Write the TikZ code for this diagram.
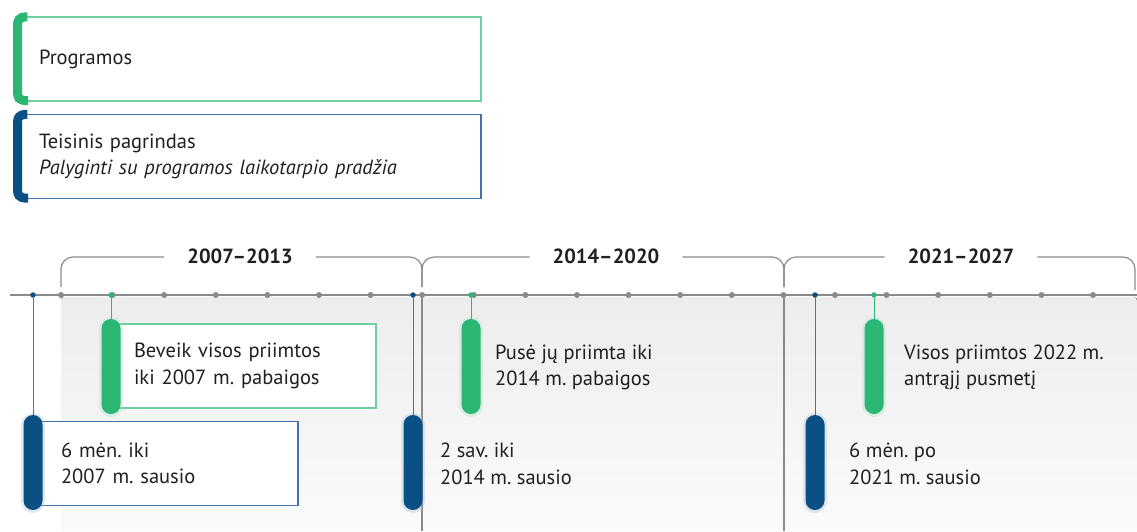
\documentclass[tikz,border=0pt]{standalone}
\usepackage{fontspec}
\setmainfont{PT Sans}
\frenchspacing
\definecolor{grn}{HTML}{2BB673}
\definecolor{grnl}{HTML}{6ED09E}
\definecolor{blu}{HTML}{0B5084}
\definecolor{blul}{HTML}{4572AA}
\definecolor{txt}{HTML}{231F20}
\definecolor{axis}{HTML}{8A8A8A}
\begin{document}
\begin{tikzpicture}[x=1pt,y=-1pt,
  every node/.style={font=\fontsize{20.5}{26.5}\selectfont, text=txt},
  bar/.style={rounded corners=9.5pt, minimum width=19pt, minimum height=95pt, inner sep=0pt, draw=none},
  halo/.style={rounded corners=12pt, minimum width=24pt, minimum height=100pt, inner sep=0pt, draw=none, opacity=0.35},
  legbar/.style={line width=9pt, rounded corners=7pt},
  box/.style={fill=white, line width=1.1pt, minimum height=84pt, inner ysep=0pt, align=left},
  gdot/.style={circle, fill=axis, inner sep=0pt, minimum size=6pt},
  bdot/.style={circle, fill=blu, inner sep=0pt, minimum size=5.5pt},
  grdot/.style={circle, fill=grn, inner sep=0pt, minimum size=5.5pt},
  brace/.style={draw=axis, line width=1.2pt, rounded corners=12pt},
  period/.style={font=\fontsize{20.5}{22}\selectfont\bfseries, inner xsep=23pt, inner ysep=2pt},
  plain/.style={anchor=west, inner sep=0pt, align=left},
  gconn/.style={draw=grn, line width=1pt},
  bconn/.style={draw=blul, line width=1pt}]
\useasboundingbox (0,0) rectangle (1137,531);

% legend
\node[box, draw=grnl, minimum width=465pt, text width=419pt, inner xsep=23pt] (lp) at (248.5,59) {Programos};
\draw[legbar, grn] (lp.north west) ++(12,0.5) -| (17.5,100.5) -- (28,100.5);
\node[box, draw=blul, minimum width=465pt, text width=419pt, inner xsep=23pt] (lt) at (248.5,156.5)
  {Teisinis pagrindas\\\textit{Palyginti su programos laikotarpio pradžia}};
\draw[legbar, blu] (lt.north west) ++(12,0.5) -| (17.5,198) -- (28,198);

% background panels
\fill[top color=black!7, bottom color=black!1.5, rounded corners=3pt] (61,297) rectangle (1137,540);
\draw[axis, line width=1.2pt] (422,295) -- (422,531);
\draw[axis, line width=1.2pt] (784,295) -- (784,531);

% period labels and braces
\node[period] (p1) at (240,256) {2007–2013};
\node[period] (p2) at (606,256) {2014–2020};
\node[period] (p3) at (961,256) {2021–2027};
\coordinate (a0) at (61,287);
\coordinate (a1) at (422,287);
\coordinate (a2) at (784,287);
\coordinate (a3) at (1135,290);
\draw[brace] (p1.west |- 0,257) -| (a0);
\draw[brace] (p1.east |- 0,257) -| (a1);
\draw[brace] (p2.west |- 0,257) -| (a1);
\draw[brace] (p2.east |- 0,257) -| (a2);
\draw[brace] (p3.west |- 0,257) -| (a2);
\draw[brace] (p3.east |- 0,257) -| (a3);

% timeline
\coordinate (l0) at (10,295);
\coordinate (l1) at (1137,295);
\draw[axis, line width=1.4pt] (l0) -- (l1);
\foreach \k in {0,...,20} \node[gdot] (t\k) at ({61+51.6*\k},295) {};

% blue markers
\node[bdot] (bd1) at (33,295) {};
\node[bdot] (bd2) at (413,295) {};
\node[bdot] (bd3) at (815,295) {};
% green markers
\node[grdot] (gd1) at (111,295) {};
\node[grdot] (gd2) at (471,295) {};
\node[grdot] (gd3) at (874,295) {};

% period 1
\node[box, draw=grnl, minimum width=266pt, text width=218pt, inner xsep=24pt] (g1box) at (243,366) {Beveik visos priimtos\\iki 2007 m. pabaigos};
\node[halo, fill=grn!40] at (111,367) {};
\node[bar, fill=grn] (g1) at (111,366.5) {};
\path[gconn] (gd1) -- (g1.north);
\node[box, draw=blul, minimum width=265pt, text width=209pt, inner xsep=28pt] (b1box) at (165.5,463.5) {6 mėn. iki\\2007 m. sausio};
\node[halo, fill=blu!35] at (33,463) {};
\node[bar, fill=blu] (b1) at (33,462.5) {};
\path[bconn] (bd1) -- (b1.north);

% period 2
\node[halo, fill=blu!35] at (413,463) {};
\node[bar, fill=blu] (b2) at (413,462.5) {};
\path[bconn] (bd2) -- (b2.north);
\node[plain] (b2t) at (440,464) {2 sav. iki\\2014 m. sausio};
\node[halo, fill=grn!40] at (471,367) {};
\node[bar, fill=grn] (g2) at (471,366.5) {};
\path[gconn] (gd2) -- (g2.north);
\node[plain] (g2t) at (495,367.5) {Pusė jų priimta iki\\2014 m. pabaigos};

% period 3
\node[halo, fill=blu!35] at (815,463) {};
\node[bar, fill=blu] (b3) at (815,462.5) {};
\path[bconn] (bd3) -- (b3.north);
\node[plain] (b3t) at (849,464) {6 mėn. po\\2021 m. sausio};
\node[halo, fill=grn!40] at (874,367) {};
\node[bar, fill=grn] (g3) at (874,366.5) {};
\path[gconn] (gd3) -- (g3.north);
\node[plain] (g3t) at (904,367.5) {Visos priimtos 2022 m.\\antrąjį pusmetį};
\end{tikzpicture}
\end{document}
